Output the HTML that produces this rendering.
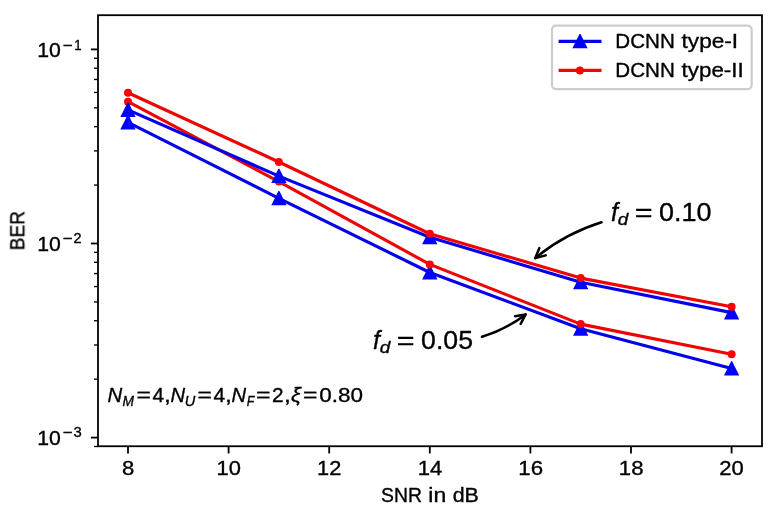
<!DOCTYPE html>
<html><head><meta charset="utf-8"><title>BER vs SNR</title>
<style>html,body{margin:0;padding:0;background:#fff;width:775px;height:512px;overflow:hidden;}svg{display:block;}text{font-family:"Liberation Sans",sans-serif;fill:#000;}.i{font-style:italic;}</style>
</head><body>
<svg width="775" height="512" viewBox="0 0 775 512">
<rect x="0" y="0" width="775" height="512" fill="#ffffff"/>
<g stroke="#000" stroke-width="1.8" fill="none">
<line x1="128.00" y1="446.25" x2="128.00" y2="453.45"/>
<line x1="228.60" y1="446.25" x2="228.60" y2="453.45"/>
<line x1="329.20" y1="446.25" x2="329.20" y2="453.45"/>
<line x1="429.80" y1="446.25" x2="429.80" y2="453.45"/>
<line x1="530.40" y1="446.25" x2="530.40" y2="453.45"/>
<line x1="631.00" y1="446.25" x2="631.00" y2="453.45"/>
<line x1="731.60" y1="446.25" x2="731.60" y2="453.45"/>
<line x1="90.9" y1="49.40" x2="98.0" y2="49.40"/>
<line x1="90.9" y1="243.50" x2="98.0" y2="243.50"/>
<line x1="90.9" y1="437.60" x2="98.0" y2="437.60"/>
</g>
<g stroke="#000" stroke-width="1.35" fill="none">
<line x1="94.0" y1="185.07" x2="98.0" y2="185.07"/>
<line x1="94.0" y1="150.89" x2="98.0" y2="150.89"/>
<line x1="94.0" y1="126.64" x2="98.0" y2="126.64"/>
<line x1="94.0" y1="107.83" x2="98.0" y2="107.83"/>
<line x1="94.0" y1="92.46" x2="98.0" y2="92.46"/>
<line x1="94.0" y1="79.47" x2="98.0" y2="79.47"/>
<line x1="94.0" y1="68.21" x2="98.0" y2="68.21"/>
<line x1="94.0" y1="58.28" x2="98.0" y2="58.28"/>
<line x1="94.0" y1="379.17" x2="98.0" y2="379.17"/>
<line x1="94.0" y1="344.99" x2="98.0" y2="344.99"/>
<line x1="94.0" y1="320.74" x2="98.0" y2="320.74"/>
<line x1="94.0" y1="301.93" x2="98.0" y2="301.93"/>
<line x1="94.0" y1="286.56" x2="98.0" y2="286.56"/>
<line x1="94.0" y1="273.57" x2="98.0" y2="273.57"/>
<line x1="94.0" y1="262.31" x2="98.0" y2="262.31"/>
<line x1="94.0" y1="252.38" x2="98.0" y2="252.38"/>
<line x1="94.0" y1="446.48" x2="98.0" y2="446.48"/>
</g>
<polyline points="128.00,122.40 278.90,198.30 429.80,272.50 580.70,328.70 731.60,368.50" fill="none" stroke="#0400ea" stroke-width="3.15" stroke-linejoin="round" stroke-linecap="butt"/>
<path d="M127.50 115.10 L128.50 115.10 L135.65 129.40 L120.35 129.40 Z" fill="#0000ff"/>
<path d="M278.40 191.00 L279.40 191.00 L286.55 205.30 L271.25 205.30 Z" fill="#0000ff"/>
<path d="M429.30 265.20 L430.30 265.20 L437.45 279.50 L422.15 279.50 Z" fill="#0000ff"/>
<path d="M580.20 321.40 L581.20 321.40 L588.35 335.70 L573.05 335.70 Z" fill="#0000ff"/>
<path d="M731.10 361.20 L732.10 361.20 L739.25 375.50 L723.95 375.50 Z" fill="#0000ff"/>
<polyline points="128.00,101.70 278.90,181.60 429.80,264.40 580.70,324.10 731.60,354.20" fill="none" stroke="#ee0404" stroke-width="3.15" stroke-linejoin="round" stroke-linecap="butt"/>
<circle cx="128.00" cy="101.70" r="4" fill="#ff0000"/>
<circle cx="278.90" cy="181.60" r="4" fill="#ff0000"/>
<circle cx="429.80" cy="264.40" r="4" fill="#ff0000"/>
<circle cx="580.70" cy="324.10" r="4" fill="#ff0000"/>
<circle cx="731.60" cy="354.20" r="4" fill="#ff0000"/>
<polyline points="128.00,109.90 278.90,176.10 429.80,237.30 580.70,282.30 731.60,312.60" fill="none" stroke="#0400ea" stroke-width="3.15" stroke-linejoin="round" stroke-linecap="butt"/>
<path d="M127.50 102.60 L128.50 102.60 L135.65 116.90 L120.35 116.90 Z" fill="#0000ff"/>
<path d="M278.40 168.80 L279.40 168.80 L286.55 183.10 L271.25 183.10 Z" fill="#0000ff"/>
<path d="M429.30 230.00 L430.30 230.00 L437.45 244.30 L422.15 244.30 Z" fill="#0000ff"/>
<path d="M580.20 275.00 L581.20 275.00 L588.35 289.30 L573.05 289.30 Z" fill="#0000ff"/>
<path d="M731.10 305.30 L732.10 305.30 L739.25 319.60 L723.95 319.60 Z" fill="#0000ff"/>
<polyline points="128.00,92.70 278.90,162.00 429.80,233.75 580.70,278.10 731.60,306.70" fill="none" stroke="#ee0404" stroke-width="3.15" stroke-linejoin="round" stroke-linecap="butt"/>
<circle cx="128.00" cy="92.70" r="4" fill="#ff0000"/>
<circle cx="278.90" cy="162.00" r="4" fill="#ff0000"/>
<circle cx="429.80" cy="233.75" r="4" fill="#ff0000"/>
<circle cx="580.70" cy="278.10" r="4" fill="#ff0000"/>
<circle cx="731.60" cy="306.70" r="4" fill="#ff0000"/>
<rect x="98.0" y="15.2" width="664.0" height="431.05" fill="none" stroke="#000" stroke-width="1.8"/>
<rect x="552.0" y="25.7" width="199.7" height="63.4" rx="4" ry="4" fill="#ffffff" fill-opacity="0.8" stroke="#cccccc" stroke-width="2.2"/>
<line x1="558.6" y1="41.3" x2="601.5" y2="41.3" stroke="#0400ea" stroke-width="3.15"/>
<path d="M579.50 34.00 L580.50 34.00 L587.65 48.30 L572.35 48.30 Z" fill="#0000ff"/>
<line x1="558.6" y1="70.4" x2="601.5" y2="70.4" stroke="#ee0404" stroke-width="3.15"/>
<circle cx="579.90" cy="70.40" r="4" fill="#ff0000"/>
<g fill="none" stroke="#000" stroke-width="2.5" stroke-linecap="round" stroke-linejoin="round">
<path d="M601.5 222.3 Q565 233.65 535.27 258.07"/>
<path d="M545.65 255.35 L535.27 258.07 L539.32 248.13"/>
<path d="M482.0 336.8 Q506.0 329.5 525.59 314.41"/>
<path d="M515.0 316.17 L525.59 314.41 L520.64 323.94"/>
</g>
<g style="filter:grayscale(1)" stroke="#000" stroke-width="0.35">
<text><tspan x="121.98" y="475.20" font-size="20.3" textLength="12.26" lengthAdjust="spacingAndGlyphs">8</tspan></text>
<text><tspan x="216.5" y="475.20" font-size="20.3" textLength="24.36" lengthAdjust="spacingAndGlyphs">10</tspan></text>
<text><tspan x="317.11" y="475.20" font-size="20.3" textLength="24.21" lengthAdjust="spacingAndGlyphs">12</tspan></text>
<text><tspan x="417.69" y="475.20" font-size="20.3" textLength="24.57" lengthAdjust="spacingAndGlyphs">14</tspan></text>
<text><tspan x="518.28" y="475.20" font-size="20.3" textLength="24.76" lengthAdjust="spacingAndGlyphs">16</tspan></text>
<text><tspan x="618.88" y="475.20" font-size="20.3" textLength="24.65" lengthAdjust="spacingAndGlyphs">18</tspan></text>
<text><tspan x="719.31" y="475.20" font-size="20.3" textLength="24.55" lengthAdjust="spacingAndGlyphs">20</tspan></text>
<text><tspan x="37.29" y="57.20" font-size="20.3" textLength="23.6" lengthAdjust="spacingAndGlyphs">10</tspan><tspan x="62.61" y="49.60" font-size="14.4" textLength="9.86" lengthAdjust="spacingAndGlyphs">−</tspan><tspan x="74.28" y="49.60" font-size="14.4" textLength="7.4" lengthAdjust="spacingAndGlyphs">1</tspan></text>
<text><tspan x="37.29" y="250.80" font-size="20.3" textLength="23.6" lengthAdjust="spacingAndGlyphs">10</tspan><tspan x="62.61" y="243.00" font-size="14.4" textLength="9.86" lengthAdjust="spacingAndGlyphs">−</tspan><tspan x="73.5" y="243.00" font-size="14.4" textLength="8.02" lengthAdjust="spacingAndGlyphs">2</tspan></text>
<text><tspan x="37.29" y="444.80" font-size="20.3" textLength="23.6" lengthAdjust="spacingAndGlyphs">10</tspan><tspan x="62.61" y="437.20" font-size="14.4" textLength="9.86" lengthAdjust="spacingAndGlyphs">−</tspan><tspan x="73.49" y="437.20" font-size="14.4" textLength="8.24" lengthAdjust="spacingAndGlyphs">3</tspan></text>
<text><tspan x="381.08" y="502.30" font-size="20.3" textLength="40.87" lengthAdjust="spacingAndGlyphs">SNR</tspan> <tspan x="428.38" y="502.30" font-size="20.3" textLength="17.9" lengthAdjust="spacingAndGlyphs">in</tspan> <tspan x="452.71" y="502.30" font-size="20.3" textLength="26.15" lengthAdjust="spacingAndGlyphs">dB</tspan></text>
<text><tspan x="615.38" y="48.00" font-size="20.3" textLength="59.44" lengthAdjust="spacingAndGlyphs">DCNN</tspan> <tspan x="681.6" y="48.00" font-size="20.3" textLength="56.53" lengthAdjust="spacingAndGlyphs">type-I</tspan></text>
<text><tspan x="615.38" y="77.30" font-size="20.3" textLength="59.44" lengthAdjust="spacingAndGlyphs">DCNN</tspan> <tspan x="681.6" y="77.30" font-size="20.3" textLength="62.07" lengthAdjust="spacingAndGlyphs">type-II</tspan></text>
<text><tspan x="610.95" y="221.00" font-size="25.0" class="i">f</tspan><tspan x="617.76" y="224.60" font-size="17.4" class="i" textLength="10.52" lengthAdjust="spacingAndGlyphs">d</tspan><tspan x="634.81" y="221.00" font-size="25.0" textLength="17.82" lengthAdjust="spacingAndGlyphs">=</tspan><tspan x="659.09" y="221.00" font-size="25.0" textLength="52.5" lengthAdjust="spacingAndGlyphs">0.10</tspan></text>
<text><tspan x="372.95" y="349.00" font-size="25.0" class="i">f</tspan><tspan x="379.76" y="352.60" font-size="17.4" class="i" textLength="10.52" lengthAdjust="spacingAndGlyphs">d</tspan><tspan x="396.8" y="349.00" font-size="25.0" textLength="17.82" lengthAdjust="spacingAndGlyphs">=</tspan><tspan x="421.1" y="349.00" font-size="25.0" textLength="51.88" lengthAdjust="spacingAndGlyphs">0.05</tspan></text>
<text><tspan x="107.6" y="402.20" font-size="20.3" class="i" textLength="14.71" lengthAdjust="spacingAndGlyphs">N</tspan><tspan x="122.56" y="405.80" font-size="14.4" class="i" textLength="11.45" lengthAdjust="spacingAndGlyphs">M</tspan><tspan x="136.53" y="402.20" font-size="20.3" textLength="14.47" lengthAdjust="spacingAndGlyphs">=</tspan><tspan x="152.64" y="402.20" font-size="20.3" textLength="11.66" lengthAdjust="spacingAndGlyphs">4</tspan><tspan x="163.9" y="402.20" font-size="20.3" textLength="6.88" lengthAdjust="spacingAndGlyphs">,</tspan><tspan x="170.4" y="402.20" font-size="20.3" class="i" textLength="14.6" lengthAdjust="spacingAndGlyphs">N</tspan><tspan x="184.89" y="405.80" font-size="14.4" class="i" textLength="10.51" lengthAdjust="spacingAndGlyphs">U</tspan><tspan x="197.46" y="402.20" font-size="20.3" textLength="14.47" lengthAdjust="spacingAndGlyphs">=</tspan><tspan x="213.64" y="402.20" font-size="20.3" textLength="11.66" lengthAdjust="spacingAndGlyphs">4</tspan><tspan x="225.0" y="402.20" font-size="20.3" textLength="6.88" lengthAdjust="spacingAndGlyphs">,</tspan><tspan x="231.6" y="402.20" font-size="20.3" class="i" textLength="14.6" lengthAdjust="spacingAndGlyphs">N</tspan><tspan x="246.68" y="405.80" font-size="14.4" class="i" textLength="7.59" lengthAdjust="spacingAndGlyphs">F</tspan><tspan x="256.03" y="402.20" font-size="20.3" textLength="14.47" lengthAdjust="spacingAndGlyphs">=</tspan><tspan x="272.13" y="402.20" font-size="20.3" textLength="11.57" lengthAdjust="spacingAndGlyphs">2</tspan><tspan x="284.09" y="402.20" font-size="20.3" textLength="6.88" lengthAdjust="spacingAndGlyphs">,</tspan><tspan x="291.13" y="402.20" font-size="20.3" class="i" textLength="9.95" lengthAdjust="spacingAndGlyphs">ξ</tspan><tspan x="302.93" y="402.20" font-size="20.3" textLength="14.47" lengthAdjust="spacingAndGlyphs">=</tspan><tspan x="319.15" y="402.20" font-size="20.3" textLength="43.77" lengthAdjust="spacingAndGlyphs">0.80</tspan></text>
<text transform="translate(24.3,250.31) rotate(-90)" x="0" y="0" font-size="20.3" textLength="39.27" lengthAdjust="spacingAndGlyphs">BER</text>
</g>
</svg></body></html>
